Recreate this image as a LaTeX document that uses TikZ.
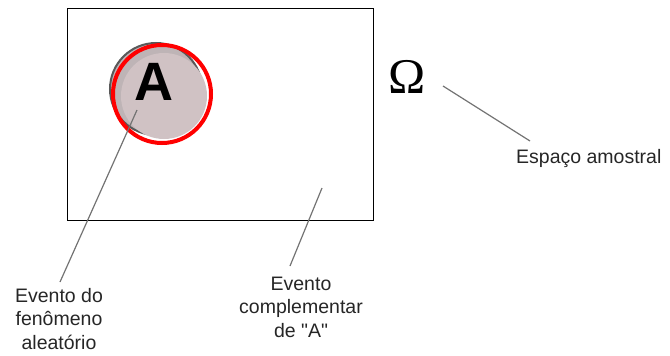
\documentclass[tikz,border=0pt]{standalone}
\usepackage{fontspec}
\setmainfont{Liberation Sans}
\newfontfamily\omegafont{Liberation Serif}
\definecolor{shadowfill}{RGB}{190,180,182}
\definecolor{diskfill}{RGB}{208,194,196}
\begin{document}
\begin{tikzpicture}[x=1pt,y=-1pt,
  lbl/.style={font=\fontsize{19.5}{23.5}\selectfont, align=center, text=black!85, inner sep=0pt},
  pointer/.style={draw=black!55, line width=1.2pt}]
\useasboundingbox (0,0) rectangle (670,356);
% sample space
\node[draw=black, line width=1.3pt, minimum width=306pt, minimum height=212pt, inner sep=0pt, anchor=north west] (omega box) at (67,8) {};
% event A (shadow disk + red ring)
\node[circle, draw=black!65, line width=2pt, fill=shadowfill, minimum size=92pt, inner sep=0pt] (shadow) at (156,89) {};
\fill[diskfill] (164,96) circle (43);
\node[circle, draw=red, line width=4pt, minimum size=98pt, inner sep=0pt] (A) at (162,94) {};
\node[font=\bfseries\fontsize{54}{54}\selectfont, inner sep=0pt] (Alabel) at (154,82) {A};
% Omega
\node[font=\omegafont\fontsize{50}{50}\selectfont, inner sep=0pt] (omega) at (407,77) {Ω};
\node[lbl, anchor=west] (esp) at (516,158) {Espaço amostral};
\coordinate (om start) at (443,86);
\coordinate (om end) at (530,141);
\draw[pointer] (om start) -- (om end);
% labels
\node[lbl] (evA) at (59,319) {Evento do\\fenômeno\\aleatório};
\node[lbl] (evC) at (301,307) {Evento\\complementar\\de \textquotedbl A\textquotedbl};
\coordinate (a in) at (137,110);
\coordinate (a out) at (60,282);
\coordinate (c in) at (322,188);
\coordinate (c out) at (290,266);
\draw[pointer] (a in) -- (a out);
\draw[pointer] (c in) -- (c out);
\end{tikzpicture}
\end{document}
